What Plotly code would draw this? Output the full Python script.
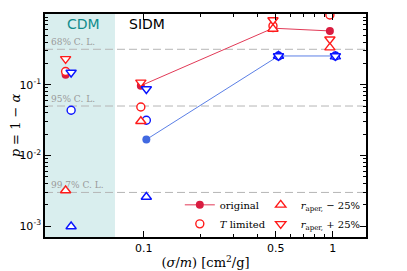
import math
import plotly.graph_objects as go

# ---------------- data ----------------
cdm_x = 0.04
sidm_x = [0.1, 0.5, 1.0]

# CDM values (red = model A, blue = model B)
cdm_red_original = 0.138
cdm_red_tlim = 0.154
cdm_red_minus = 0.0032
cdm_red_plus = 0.232
cdm_blue_tlim = 0.0435
cdm_blue_minus = 0.00099
cdm_blue_plus = 0.149

# SIDM values
red_original = [0.0968, 0.63, 0.576]
red_tlim = [0.0485, 0.678, 0.97]
red_minus = [0.0305, 0.615, 0.335]
red_plus = [0.108, 0.823, 0.44]

blue_original = [0.0168, 0.255, 0.255]
blue_tlim = [0.0315, 0.255, 0.255]
blue_minus = [0.00259, 0.255, 0.25]
blue_plus = [0.087, 0.255, 0.255]

cl_levels = [0.317, 0.05, 0.003]
cl_labels = ["68% C. L.", "95% C. L.", "99.7% C. L."]
cdm_edge = 0.0705

y_tickvals = [1e-3, 1e-2, 1e-1, 1]
y_ticktext = ["10<sup>-3</sup>", "10<sup>-2</sup>", "10<sup>-1</sup>", "10<sup>0</sup>"]
x_tickvals = [0.1, 0.5, 1]
x_ticktext = ["0.1", "0.5", "1"]

# ---------------- style ----------------
RED_LINE = "#e23a57"
RED_FILL = "#d91c40"
RED_OPEN = "#ff1a1a"
BLUE_LINE = "#5b7fe6"
BLUE_FILL = "#4169e1"
BLUE_OPEN = "#0a14ff"
off_red, off_blue = 0.966, 1.033
serif = "DejaVu Serif"

rx = [v * off_red for v in sidm_x]
bx = [v * off_blue for v in sidm_x]
crx = cdm_x * off_red
cbx = cdm_x * off_blue

fig = go.Figure()

def open_marker(symbol, color, size=8):
    return dict(symbol=symbol, size=size, color="white",
                line=dict(color=color, width=1.4))

# original (filled, with line)
fig.add_trace(go.Scatter(x=rx, y=red_original, mode="lines+markers",
                         line=dict(color=RED_LINE, width=1),
                         marker=dict(symbol="circle", size=8, color=RED_FILL),
                         name="original", legend="legend"))
fig.add_trace(go.Scatter(x=[crx], y=[cdm_red_original], mode="markers",
                         marker=dict(symbol="circle", size=8, color=RED_FILL),
                         showlegend=False))
fig.add_trace(go.Scatter(x=bx, y=blue_original, mode="lines+markers",
                         line=dict(color=BLUE_LINE, width=1),
                         marker=dict(symbol="circle", size=8, color=BLUE_FILL),
                         showlegend=False))

# T limited (open circles)
fig.add_trace(go.Scatter(x=[crx] + rx, y=[cdm_red_tlim] + red_tlim, mode="markers",
                         marker=open_marker("circle", RED_OPEN, 8),
                         name="<i>T</i> limited", legend="legend"))
fig.add_trace(go.Scatter(x=[cbx] + bx, y=[cdm_blue_tlim] + blue_tlim, mode="markers",
                         marker=open_marker("circle", BLUE_OPEN, 8),
                         showlegend=False))

# r_aper -25% (up triangles)
fig.add_trace(go.Scatter(x=[crx] + rx, y=[cdm_red_minus] + red_minus, mode="markers",
                         marker=open_marker("triangle-up", RED_OPEN, 9),
                         name="<i>r</i><sub>aper,</sub> − 25%", legend="legend2"))
fig.add_trace(go.Scatter(x=[cbx] + bx, y=[cdm_blue_minus] + blue_minus, mode="markers",
                         marker=open_marker("triangle-up", BLUE_OPEN, 9),
                         showlegend=False))

# r_aper +25% (down triangles)
fig.add_trace(go.Scatter(x=[crx] + rx, y=[cdm_red_plus] + red_plus, mode="markers",
                         marker=open_marker("triangle-down", RED_OPEN, 9),
                         name="<i>r</i><sub>aper,</sub> + 25%", legend="legend2"))
fig.add_trace(go.Scatter(x=[cbx] + bx, y=[cdm_blue_plus] + blue_plus, mode="markers",
                         marker=open_marker("triangle-down", BLUE_OPEN, 9),
                         showlegend=False))

# CDM shaded region
fig.add_vrect(x0=0.01, x1=cdm_edge, fillcolor="rgba(0,139,139,0.15)",
              line_width=0, layer="below")

# C.L. lines + labels
for lv, lab in zip(cl_levels, cl_labels):
    fig.add_hline(y=lv, line=dict(color="#b5b5b5", width=1, dash="8px,4px"),
                  layer="below")
    fig.add_annotation(x=0.012, xref="paper", y=math.log10(lv), yref="y", yshift=0,
                       text=lab, showarrow=False, xanchor="left", yanchor="bottom",
                       font=dict(family=serif, size=9, color="#9a9a9a"))

fig.add_annotation(x=0.062, xref="paper", y=1.0, yref="paper", text="CDM",
                   showarrow=False, xanchor="left", yanchor="top",
                   font=dict(family="DejaVu Sans", size=14, color="#108c8c"))
fig.add_annotation(x=0.255, xref="paper", y=1.0, yref="paper", text="SIDM",
                   showarrow=False, xanchor="left", yanchor="top",
                   font=dict(family="DejaVu Sans", size=14, color="black"))

axis_common = dict(showline=True, linecolor="black", linewidth=1.5, mirror="ticks",
                   ticks="inside", ticklen=6, tickwidth=1, tickcolor="black",
                   showgrid=False, zeroline=False, automargin=False,
                   tickfont=dict(family="DejaVu Sans", size=11, color="black"))

fig.update_xaxes(type="log", range=[-1.522, 0.176], tickvals=x_tickvals,
                 ticktext=x_ticktext,
                 minor=dict(tickvals=[0.2, 0.3, 0.4, 0.6, 0.7, 0.8, 0.9],
                            ticks="inside", ticklen=3, tickcolor="black", showgrid=False),
                 title=dict(text="(<i>σ</i>/<i>m</i>) [cm<sup>2</sup>/g]",
                            font=dict(family=serif, size=13, color="black"), standoff=4),
                 **axis_common)
y_minor = [m * 10 ** e for e in (-3, -2, -1) for m in range(2, 10)]
fig.update_yaxes(type="log", range=[-3.153, 0], tickvals=y_tickvals,
                 ticktext=y_ticktext,
                 minor=dict(tickvals=y_minor, ticks="inside", ticklen=3,
                            tickcolor="black", showgrid=False),
                 title=dict(text="<i>p</i> = 1 − <i>α</i>",
                            font=dict(family=serif, size=13, color="black"), standoff=2),
                 **axis_common)

legend_style = dict(bgcolor="rgba(0,0,0,0)", borderwidth=0,
                    font=dict(family=serif, size=10, color="black"),
                    orientation="v", xanchor="left", yanchor="bottom",
                    itemwidth=30, tracegroupgap=0)
# the page body adds an 8px offset, so margins are compensated here
fig.update_layout(
    width=407, height=271,
    margin=dict(l=37, r=49, t=6, b=41.5),
    paper_bgcolor="white", plot_bgcolor="white",
    legend=dict(x=0.42, y=-0.006, **legend_style),
    legend2=dict(x=0.672, y=-0.006, **legend_style),
)

fig.write_html("out.html")
